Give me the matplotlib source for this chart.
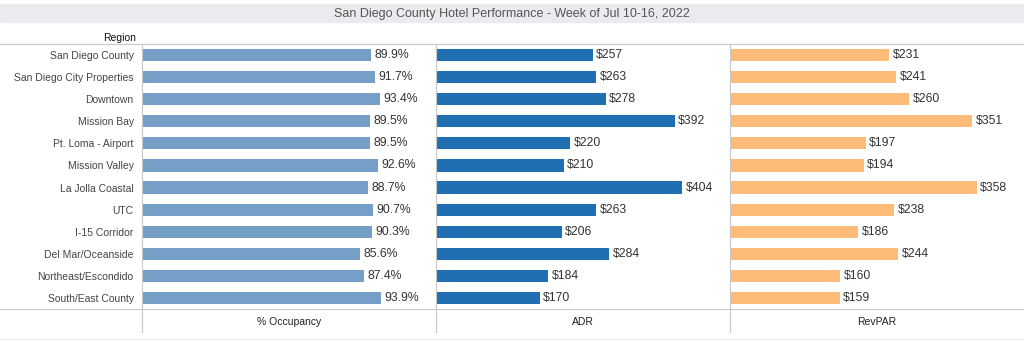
import matplotlib.pyplot as plt
from matplotlib.patches import Rectangle
from matplotlib.lines import Line2D

plt.rcParams['font.family'] = ['Liberation Sans', 'DejaVu Sans']

regions = ['San Diego County', 'San Diego City Properties', 'Downtown', 'Mission Bay',
           'Pt. Loma - Airport', 'Mission Valley', 'La Jolla Coastal', 'UTC',
           'I-15 Corridor', 'Del Mar/Oceanside', 'Northeast/Escondido', 'South/East County']
occupancy = [89.9, 91.7, 93.4, 89.5, 89.5, 92.6, 88.7, 90.7, 90.3, 85.6, 87.4, 93.9]
adr = [257, 263, 278, 392, 220, 210, 404, 263, 206, 284, 184, 170]
revpar = [231, 241, 260, 351, 197, 194, 358, 238, 186, 244, 160, 159]

panels = [
    ('% Occupancy', occupancy, '#769fc7', 115.5, lambda v: f'{v:.1f}%'),
    ('ADR', adr, '#1f6fb2', 482, lambda v: f'${v:.0f}'),
    ('RevPAR', revpar, '#ffbc79', 426, lambda v: f'${v:.0f}'),
]

W, H = 1024, 341
fig = plt.figure(figsize=(W / 100, H / 100), dpi=100)
grid = '#c8c8c8'
text_col = '#333333'

# title bar
fig.patches.append(Rectangle((0, 1 - 22 / H), 1, 18 / H, transform=fig.transFigure,
                             color='#e9ebee', zorder=0))
fig.text(0.5, 1 - 14 / H, 'San Diego County Hotel Performance - Week of Jul 10-16, 2022',
         ha='center', va='center', fontsize=9, color='#555555')
fig.text(136 / W, 1 - 38 / H, 'Region', ha='right', va='center', fontsize=7.5, color='#111111')

top, bottom = 44, 309
x0, pw = 142, 294
y = list(range(len(regions)))

for i, (name, vals, col, xmax, fmt) in enumerate(panels):
    ax = fig.add_axes([(x0 + i * pw) / W, 1 - bottom / H, pw / W, (bottom - top) / H])
    ax.barh(y, vals, height=0.55, color=col)
    for yy, v in zip(y, vals):
        ax.text(v + xmax * 0.011, yy, fmt(v), va='center', ha='left', fontsize=8.8, color=text_col)
    ax.set_xlim(0, xmax)
    ax.set_ylim(len(regions) - 0.5, -0.5)
    ax.set_xticks([])
    for s in ['top', 'right', 'bottom']:
        ax.spines[s].set_visible(False)
    ax.spines['left'].set_color(grid)
    ax.spines['left'].set_linewidth(0.8)
    if i == 0:
        ax.set_yticks(y)
        ax.set_yticklabels(regions, fontsize=7.5, color='#444444')
        ax.tick_params(axis='y', length=0, pad=6)
    else:
        ax.set_yticks([])
    # divider continues into the header row below
    fig.add_artist(Line2D([(x0 + i * pw) / W] * 2, [1 - bottom / H, 1 - 332 / H],
                          color=grid, lw=0.8))
    fig.text((x0 + i * pw + pw / 2) / W, 1 - 322 / H, name, ha='center', va='center',
             fontsize=7.5, color='#222222')

for yy in (top, bottom):
    fig.add_artist(Line2D([0, 1], [1 - yy / H] * 2, color=grid, lw=0.8))
fig.add_artist(Line2D([0, 1], [1 - 339 / H] * 2, color='#eeeeee', lw=1))

fig.savefig('out.png', dpi=100)
